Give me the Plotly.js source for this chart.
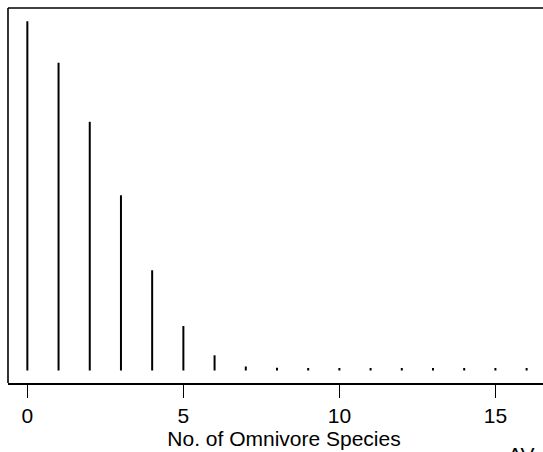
<!DOCTYPE html>
<html>
<head>
<meta charset="utf-8">
<script src="https://cdn.plot.ly/plotly-3.0.1.min.js"></script>
<style>html,body{margin:0;padding:0;background:#fff;overflow:hidden;width:543px;height:452px;}#chart{width:560px;height:452px;}</style>
</head>
<body>
<div id="chart"></div>
<script>
// Number of omnivore species (x) and relative frequency (y)
var species = [0, 1, 2, 3, 4, 5, 6, 7, 8, 9, 10, 11, 12, 13, 14, 15, 16];
var freq = [0.278, 0.245, 0.198, 0.1395, 0.0798, 0.0354, 0.0121, 0.0032, 0.0022,
            0.002, 0.002, 0.002, 0.002, 0.002, 0.002, 0.002, 0.002];
var xTicks = [0, 5, 10, 15];
var xTickLabels = ['0', '5', '10', '15'];
var xTitle = 'No. of Omnivore Species';
var cornerLabel = 'AV';

// build vertical spikes (R type = "h") from the data
var hx = [], hy = [];
for (var i = 0; i < species.length; i++) {
  hx.push(species[i], species[i], null);
  hy.push(0, freq[i], null);
}

var font = 'Liberation Sans, Arial, Helvetica, sans-serif';
var trace = {
  x: hx, y: hy, type: 'scatter', mode: 'lines',
  line: {color: '#000', width: 2},
  connectgaps: false, hoverinfo: 'skip', showlegend: false
};

var frame = {color: '#000', width: 1.6};
var layout = {
  width: 560, height: 452,
  margin: {l: 8, r: 0, t: 8, b: 69, pad: 0},
  paper_bgcolor: '#fff', plot_bgcolor: '#fff',
  font: {family: font, color: '#000', size: 21},
  showlegend: false,
  xaxis: {
    range: [-0.62, 17.07],
    tickvals: xTicks, ticktext: xTickLabels,
    ticks: 'outside', ticklen: 13, tickwidth: 1.5, tickcolor: '#000',
    showline: true, linecolor: '#000', linewidth: 1.6, mirror: false,
    showgrid: false, zeroline: false,
    tickfont: {family: font, size: 21, color: '#000'},
    title: {text: xTitle, font: {family: font, size: 21, color: '#000'}, standoff: 4},
    automargin: false
  },
  yaxis: {
    range: [-0.00995, 0.2886],
    showticklabels: false, ticks: '',
    showline: false, showgrid: false, zeroline: false, automargin: false
  },
  shapes: [
    {type: 'line', xref: 'paper', yref: 'paper', x0: 0, x1: 0, y0: 0, y1: 1, line: frame, layer: 'above'},
    {type: 'line', xref: 'paper', yref: 'paper', x0: 0, x1: 1, y0: 1, y1: 1, line: frame, layer: 'above'}
  ],
  annotations: [{
    text: cornerLabel, xref: 'x', yref: 'paper',
    x: 15.35, y: -0.155, xanchor: 'left', yanchor: 'top',
    showarrow: false, font: {family: font, size: 21, color: '#000'}
  }]
};

Plotly.newPlot('chart', [trace], layout, {displayModeBar: false, staticPlot: true});
</script>
</body>
</html>
